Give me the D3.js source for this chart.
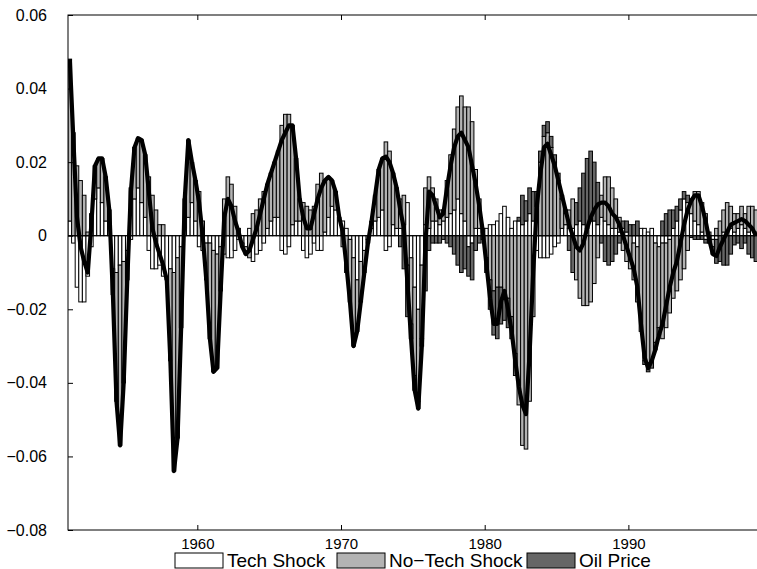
<!DOCTYPE html>
<html>
<head>
<meta charset="utf-8">
<script src="https://cdn.jsdelivr.net/npm/d3@7"></script>
<style>
body { margin: 0; background: #fff; }
text { font-family: "Liberation Sans", Arial, sans-serif; fill: #000; }
</style>
</head>
<body>
<div id="chart"></div>
<script>
// quarterly decomposition, 1951Q1 .. 1998Q4
var startYear = 1951;

var tech = [
  0.004, -0.002, -0.014, -0.018, -0.018, -0.011, -0.003, 0.010, 0.013, 0.009, 0.004, 0.000,
  -0.009, -0.010, -0.008, -0.007, -0.004, -0.001, 0.010, 0.013, 0.009, 0.005, -0.004, -0.009,
  -0.009, -0.008, -0.011, -0.012, -0.009, -0.010, -0.006, -0.003,
  0.002, 0.005, 0.009, 0.004, -0.003, -0.004, -0.002, -0.002, -0.004, -0.005, -0.003, -0.005,
  -0.006, -0.006, -0.004, -0.001, -0.002, -0.003, 0.002, -0.007, -0.005, -0.004, -0.002, 0.002,
  0.004, 0.005, 0.005, -0.004, -0.005, -0.003, 0.003, 0.004,
  0.004, -0.004, -0.006, -0.005, -0.002, -0.004, -0.004, 0.001, 0.005, 0.008, 0.007, 0.005,
  0.004, 0.002, -0.001, -0.006, -0.012, -0.007, -0.004, -0.001, 0.002, 0.004, 0.005, 0.007,
  -0.004, -0.003, 0.003, 0.002,
  0.002, 0.003, 0.009, -0.006, -0.014, -0.020, -0.008, 0.003, 0.002, 0.004, 0.004, 0.003,
  0.004, 0.005, 0.006, 0.007, 0.010, 0.006, 0.004, -0.003, -0.002, 0.002, 0.002, 0.001,
  0.002, 0.003, 0.003, 0.004, 0.006, 0.008, 0.005, 0.002, 0.004, 0.004, 0.003, 0.004,
  0.006, 0.004,
  -0.004, -0.006, -0.006, -0.006, -0.005, -0.003, -0.002, 0.002, 0.003, 0.002, 0.002, 0.003,
  0.004, 0.003, 0.002, 0.004, 0.004, 0.003, 0.005, 0.004, 0.003, 0.002, 0.002, 0.001,
  0.002, 0.001, 0.000, -0.002, -0.003, 0.002, 0.002, 0.001, 0.002, -0.002, -0.003, -0.002,
  -0.002, -0.001, 0.002, 0.004, 0.007, 0.010, 0.009, 0.006, 0.004, 0.003, 0.001, -0.001,
  0.000, -0.001, -0.001, 0.000, 0.001, 0.001, 0.002, 0.001, 0.002, 0.003, 0.002, 0.001,
  0.002, 0.001
];

var nonTech = [
  0.044, 0.028, 0.019, 0.015, 0.011, 0.001, 0.006, 0.009, 0.008, 0.012, 0.012, 0.007,
  -0.007, -0.035, -0.049, -0.033, -0.008, 0.013, 0.014, 0.0135, 0.017, 0.017, 0.016, 0.011,
  0.007, 0.003, 0.003, 0.000, -0.025, -0.054, -0.049, -0.022,
  0.008, 0.021, 0.011, 0.011, 0.012, 0.004, -0.010, -0.026, -0.033, -0.031, -0.012, 0.010,
  0.016, 0.014, 0.008, 0.002, -0.001, -0.002, -0.006, 0.006, 0.007, 0.010, 0.012, 0.012,
  0.013, 0.015, 0.018, 0.030, 0.033, 0.033, 0.027, 0.017,
  0.006, 0.009, 0.008, 0.007, 0.008, 0.014, 0.017, 0.014, 0.011, 0.007, 0.005, 0.000,
  -0.003, -0.010, -0.017, -0.024, -0.014, -0.011, -0.006, -0.001, 0.002, 0.007, 0.013, 0.014,
  0.0255, 0.023, 0.014, 0.011,
  0.008, 0.008, -0.008, -0.018, -0.024, -0.025, -0.020, 0.010, 0.014, 0.009, 0.006, 0.004,
  0.003, 0.010, 0.016, 0.022, 0.025, 0.032, 0.031, 0.035, 0.031, 0.016, 0.008, 0.001,
  -0.006, -0.012, -0.015, -0.014, -0.014, -0.015, -0.017, -0.022, -0.032, -0.046, -0.057, -0.058,
  -0.045, -0.022,
  0.008, 0.020, 0.027, 0.028, 0.024, 0.020, 0.015, 0.008, 0.003, 0.005, 0.008, -0.012,
  -0.017, -0.019, -0.019, -0.018, -0.013, -0.006, 0.006, 0.012, 0.013, 0.011, 0.008, 0.004,
  -0.004, -0.007, -0.009, -0.010, -0.015, -0.026, -0.034, -0.035, -0.034, -0.027, -0.022, -0.026,
  -0.023, -0.020, -0.017, -0.015, -0.012, -0.009, -0.004, 0.004, 0.008, 0.009, 0.008, 0.006,
  0.001, -0.002, 0.002, 0.004, 0.006, 0.008, 0.006, 0.005, 0.004, 0.005, 0.004, 0.007,
  0.006, 0.006
];

var oil = [
  0, 0, 0, 0, 0, 0, 0, 0, 0, 0, 0, 0, 0, 0, 0, 0, 0, 0, 0, 0, 0, 0, 0, 0,
  0, 0, 0, 0, 0, 0, 0, 0, 0, 0, 0, 0, 0, 0, 0, 0, 0, 0, 0, 0, 0, 0, 0, 0,
  0, 0, 0, 0, 0, 0, 0, 0, 0, 0, 0, 0, 0, 0, 0, 0, 0, 0, 0, 0, 0, 0, 0, 0,
  0, 0, 0, 0, 0, 0, 0, 0, 0, 0, 0, 0, 0, 0, 0, 0, 0, 0, 0, 0,
  -0.003, -0.009, -0.014, -0.004, -0.004, -0.002, -0.002, -0.015, -0.004, -0.002, -0.002, -0.002,
  -0.001, -0.002, -0.003, -0.005, -0.008, -0.010, -0.009, -0.008, -0.010, -0.004, -0.002, -0.001,
  -0.004, -0.008, -0.012, -0.014, -0.010, -0.008, -0.008, -0.006, -0.006, 0.001, 0.008, 0.0055,
  0.007, 0.008,
  0.004, 0.003, 0.003, 0.003, 0.003, 0.002, 0.002, 0.001, 0.001, -0.004, -0.010, 0.006,
  0.009, 0.014, 0.019, 0.019, 0.016, 0.0115, -0.002, -0.007, -0.008, -0.007, -0.005, -0.002,
  0.002, 0.003, 0.003, 0.003, 0.004, 0.000, -0.001, -0.002, -0.002, -0.002, -0.002, 0.004,
  0.006, 0.007, 0.005, 0.004, 0.003, 0.002, 0.002, -0.0005, -0.001, -0.001, -0.001, -0.001,
  -0.002, -0.002, -0.0065, -0.007, -0.008, -0.008, -0.005, -0.0025, -0.002, -0.0035, -0.002, -0.005,
  -0.006, -0.007
];

var seriesKeys = ["tech", "nonTech", "oil"];
var seriesNames = ["Tech Shock", "No\u2212Tech Shock", "Oil Price"];
var seriesColors = ["#ffffff", "#b3b3b3", "#666666"];
var yTicks = [-0.08, -0.06, -0.04, -0.02, 0, 0.02, 0.04, 0.06];
var xTicks = [1960, 1970, 1980, 1990];

var width = 757, height = 569;
var plotLeft = 68, plotRight = 757.7, plotTop = 15, plotBottom = 530;

var rows = tech.map(function(d, i) {
  return { t: startYear + i * 0.25, tech: d, nonTech: nonTech[i], oil: oil[i] };
});

var x = d3.scaleLinear().domain([1951, 1999]).range([plotLeft, plotRight]);
var y = d3.scaleLinear().domain([-0.08, 0.06]).range([plotBottom, plotTop]);

var svg = d3.select("#chart").append("svg")
    .attr("width", width).attr("height", height);

svg.append("clipPath").attr("id", "plot")
  .append("rect").attr("x", plotLeft).attr("y", plotTop)
  .attr("width", plotRight - plotLeft).attr("height", plotBottom - plotTop);

var stack = d3.stack().keys(seriesKeys).offset(d3.stackOffsetDiverging);
var layers = stack(rows);

var g = svg.append("g").attr("clip-path", "url(#plot)");

g.selectAll("g.layer")
  .data(layers)
  .enter().append("g")
    .attr("class", "layer")
    .attr("fill", function(d, i) { return seriesColors[i]; })
  .selectAll("rect")
  .data(function(d) { return d.filter(function(p) { return p[1] !== p[0]; }); })
  .enter().append("rect")
    .attr("x", function(d) { return x(d.data.t); })
    .attr("width", function(d) { return x(d.data.t + 0.25) - x(d.data.t); })
    .attr("y", function(d) { return y(Math.max(d[0], d[1])); })
    .attr("height", function(d) { return Math.abs(y(d[0]) - y(d[1])); })
    .attr("stroke", "#000")
    .attr("stroke-width", 1);

// baseline
g.append("line")
  .attr("x1", plotLeft).attr("x2", plotRight)
  .attr("y1", y(0)).attr("y2", y(0))
  .attr("stroke", "#000").attr("stroke-width", 1);

// total line
var line = d3.line()
  .x(function(d) { return x(d.t + 0.125); })
  .y(function(d) { return y(d.tech + d.nonTech + d.oil); });

g.append("path")
  .datum(rows)
  .attr("d", line)
  .attr("fill", "none")
  .attr("stroke", "#000")
  .attr("stroke-width", 4.2)
  .attr("stroke-linejoin", "round");

// axes
var yAxis = d3.axisLeft(y).tickValues(yTicks).tickSize(-5).tickPadding(21)
  .tickFormat(function(d) { return d === 0 ? "0" : d3.format(".2f")(d); });
var yg = svg.append("g").attr("transform", "translate(" + plotLeft + ",0)").call(yAxis);
yg.select(".domain").remove();
yg.selectAll("text").style("font-size", "16px");

var xAxis = d3.axisBottom(x).tickValues(xTicks).tickSize(-5).tickPadding(8)
  .tickFormat(d3.format("d"));
var xg = svg.append("g").attr("transform", "translate(0," + plotBottom + ")").call(xAxis);
xg.select(".domain").remove();
xg.selectAll("text").style("font-size", "15px");

var xTop = d3.axisTop(x).tickValues(xTicks).tickSize(-5).tickFormat("");
var xt = svg.append("g").attr("transform", "translate(0," + plotTop + ")").call(xTop);
xt.select(".domain").remove();

svg.append("rect")
  .attr("x", plotLeft).attr("y", plotTop)
  .attr("width", plotRight - plotLeft).attr("height", plotBottom - plotTop)
  .attr("fill", "none").attr("stroke", "#000").attr("stroke-width", 1);

// legend
var legendX = [175, 337, 527];
var legend = svg.append("g");
seriesNames.forEach(function(name, i) {
  legend.append("rect")
    .attr("x", legendX[i]).attr("y", 553)
    .attr("width", 48).attr("height", 15)
    .attr("fill", seriesColors[i]).attr("stroke", "#000").attr("stroke-width", 1);
  legend.append("text")
    .attr("x", legendX[i] + 52).attr("y", 567)
    .style("font-size", "19px")
    .text(name);
});
</script>
</body>
</html>
